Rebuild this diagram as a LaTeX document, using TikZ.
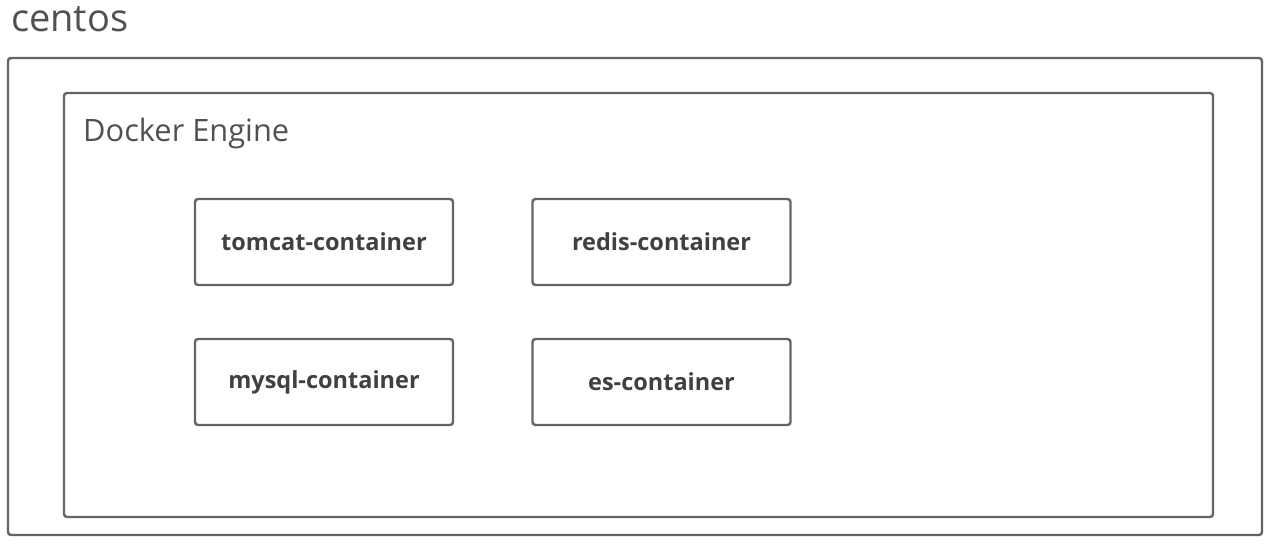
\documentclass[tikz,border=0pt]{standalone}
\usepackage{fontspec}
\setmainfont{Open Sans}
\usetikzlibrary{positioning}

\definecolor{boxgray}{RGB}{100,100,100}
\definecolor{textgray}{RGB}{80,80,80}

\tikzset{
    hostbox/.style={draw=boxgray, line width=2.4pt, rounded corners=3pt, inner sep=0pt},
    containerbox/.style={draw=boxgray, line width=2.4pt, rounded corners=3pt,
        minimum width=258pt, minimum height=86pt, inner sep=0pt,
        font=\fontsize{23.5}{28}\selectfont\bfseries, text=textgray!80!black}
}

\begin{document}
\begin{tikzpicture}[x=1pt, y=-1pt]
    \useasboundingbox (0,0) rectangle (1273,548);

    % Hote et moteur
    \node[hostbox, minimum width=1254pt, minimum height=477pt] (centos) at (635,296.5) {};
    \node[hostbox, minimum width=1149pt, minimum height=424pt] (engine) at (638.5,305) {};

    % Titres
    \node[anchor=west, inner sep=0pt, text=textgray, font=\fontsize{38}{44}\selectfont] (centoslabel) at (11,19) {centos};
    \node[anchor=west, inner sep=0pt, text=textgray, font=\fontsize{30.8}{36}\selectfont] (enginelabel) at (83,134) {Docker Engine};

    % Conteneurs
    \node[containerbox] (tomcat) at (324,242)   {tomcat-container};
    \node[containerbox] (redis)  at (661.5,242) {redis-container};
    \node[containerbox] (mysql)  at (324,382)   {mysql-container};
    \node[containerbox] (es)     at (661.5,382) {es-container};

\end{tikzpicture}
\end{document}
